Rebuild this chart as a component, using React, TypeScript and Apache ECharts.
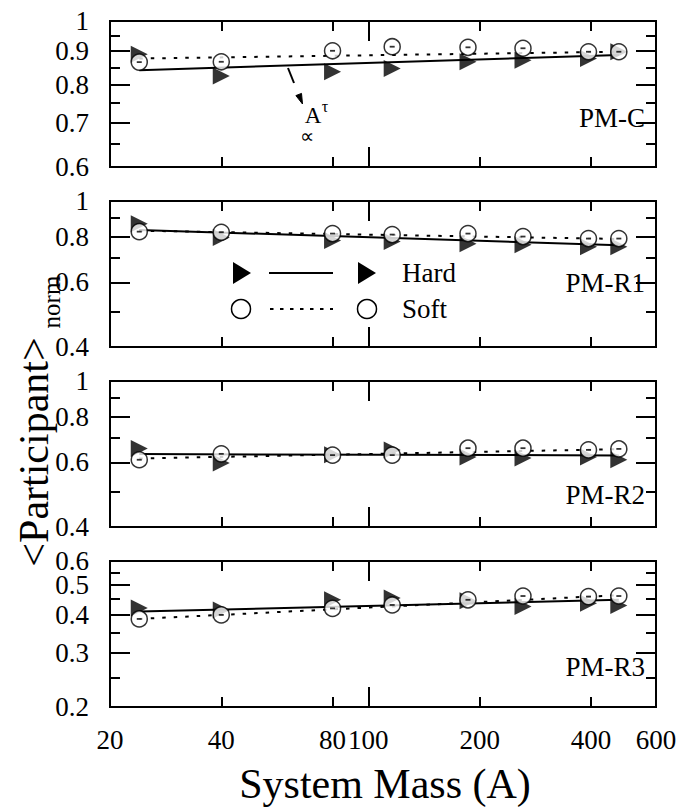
import React, { useEffect, useRef } from 'react';
import * as echarts from 'echarts';

// ---- data ----
const masses = [24, 40, 80, 116, 186, 262, 394, 476];
const panelNames = ['PM-C', 'PM-R1', 'PM-R2', 'PM-R3'];

const hardC = [0.89, 0.825, 0.837, 0.847, 0.867, 0.872, 0.877, 0.898];
const softC = [0.866, 0.867, 0.901, 0.914, 0.912, 0.909, 0.898, 0.898];
const hardFitC = [0.842, 0.888];
const softFitC = [0.877, 0.898];

const hardR1 = [0.867, 0.795, 0.78, 0.775, 0.765, 0.76, 0.75, 0.75];
const softR1 = [0.825, 0.822, 0.815, 0.81, 0.815, 0.8, 0.79, 0.79];
const hardFitR1 = [0.834, 0.758];
const softFitR1 = [0.83, 0.788];

const hardR2 = [0.655, 0.598, 0.629, 0.649, 0.621, 0.617, 0.621, 0.61];
const softR2 = [0.61, 0.633, 0.628, 0.628, 0.656, 0.656, 0.649, 0.653];
const hardFitR2 = [0.632, 0.627];
const softFitR2 = [0.615, 0.652];

const hardR3 = [0.421, 0.415, 0.448, 0.454, 0.445, 0.426, 0.437, 0.429];
const softR3 = [0.388, 0.4, 0.42, 0.431, 0.448, 0.461, 0.459, 0.461];
const hardFitR3 = [0.41, 0.448];
const softFitR3 = [0.388, 0.464];

const xTickLabels = [20, 40, 80, 100, 200, 400, 600];
const xMinorTicks = [40, 80, 200, 400];
const xMajorTicks = [100];
const xRange = [20, 600];

const yRanges = [[0.6, 1], [0.4, 1], [0.4, 1], [0.2, 0.6]];
const yLabels = [
  [1, 0.9, 0.8, 0.7, 0.6],
  [1, 0.8, 0.6, 0.4],
  [1, 0.8, 0.6, 0.4],
  [0.6, 0.5, 0.4, 0.3, 0.2],
];
const yMajorTicks = [[0.9, 0.8, 0.7], [0.8, 0.6], [0.8, 0.6], [0.5, 0.4, 0.3]];
const yMinorTicks = [[0.95, 0.85, 0.75, 0.65], [0.9, 0.7, 0.5], [0.9, 0.7, 0.5], [0.55, 0.45, 0.35, 0.25]];

const hardAll = [hardC, hardR1, hardR2, hardR3];
const softAll = [softC, softR1, softR2, softR3];
const hardFitAll = [hardFitC, hardFitR1, hardFitR2, hardFitR3];
const softFitAll = [softFitC, softFitR1, softFitR2, softFitR3];

// ---- layout ----
const FONT = 'Liberation Serif';
const GRID_LEFT = 110;
const GRID_WIDTH = 546;
const GRID_H = 146;
const gridTops = [21, 201, 381, 561];
const panelLabelY = [118, 283, 495, 667];

const txt = (x: number, y: number, text: string, size: number, align = 'center', extra: any = {}) => ({
  type: 'text', z: 10, x, y, ...extra,
  style: { text, fontFamily: FONT, fontSize: size, fill: '#000', align, verticalAlign: 'middle' },
});

const labelCfg = (labels: number[] | null, margin: number) =>
  labels && labels.length
    ? {
        show: true, customValues: labels, margin, color: '#000', fontFamily: FONT, fontSize: 27, lineHeight: 22,
        formatter: (v: number) => String(v), hideOverlap: false, showMinLabel: true, showMaxLabel: true,
      }
    : { show: false };

function buildOption() {
  const grid: any[] = [];
  const xAxis: any[] = [];
  const yAxis: any[] = [];
  const series: any[] = [];

  gridTops.forEach((top, g) => {
    grid.push({
      left: GRID_LEFT, top, width: GRID_WIDTH, height: GRID_H,
      show: true, borderColor: '#000', borderWidth: 2, backgroundColor: 'rgba(0,0,0,0)',
      containLabel: false, outerBoundsMode: 'none',
    });
    const mkX = (pos: string, ticks: number[], len: number, labels: number[] | null) => ({
      type: 'log', logBase: 10, gridIndex: g, position: pos,
      min: xRange[0] * 0.999999, max: xRange[1] * 1.000001,
      axisLine: { show: false, onZero: false },
      axisTick: { show: true, inside: true, length: len, customValues: ticks, lineStyle: { color: '#000', width: 2 } },
      axisLabel: labelCfg(labels, 22),
      splitLine: { show: false }, minorTick: { show: false }, minorSplitLine: { show: false },
    });
    const lastPanel = g === gridTops.length - 1;
    xAxis.push(mkX('bottom', xMinorTicks, 10, lastPanel ? xTickLabels : null));
    xAxis.push(mkX('bottom', xMajorTicks, 20, null));
    xAxis.push(mkX('top', xMinorTicks, 10, null));
    xAxis.push(mkX('top', xMajorTicks, 20, null));

    const mkY = (pos: string, ticks: number[], len: number, labels: number[] | null) => ({
      type: 'log', logBase: 10, gridIndex: g, position: pos,
      min: yRanges[g][0] * 0.999999, max: yRanges[g][1] * 1.000001,
      axisLine: { show: false, onZero: false },
      axisTick: { show: true, inside: true, length: len, customValues: ticks, lineStyle: { color: '#000', width: 2 } },
      axisLabel: labelCfg(labels, 21),
      splitLine: { show: false }, minorTick: { show: false }, minorSplitLine: { show: false },
    });
    // split labels over two axes so that adjacent labels never compete for space
    const evenLabels = yLabels[g].filter((_, i) => i % 2 === 0);
    const oddLabels = yLabels[g].filter((_, i) => i % 2 === 1);
    yAxis.push(mkY('left', yMajorTicks[g], 20, evenLabels));
    yAxis.push(mkY('left', yMinorTicks[g], 10, oddLabels));
    yAxis.push(mkY('right', yMajorTicks[g], 20, null));
    yAxis.push(mkY('right', yMinorTicks[g], 10, null));

    const xi = g * 4;
    const yi = g * 4;
    const n = masses.length;
    series.push({
      type: 'line', xAxisIndex: xi, yAxisIndex: yi, symbol: 'none', z: 2,
      data: [[masses[0], hardFitAll[g][0]], [masses[n - 1], hardFitAll[g][1]]],
      lineStyle: { color: '#000', width: 2 },
    });
    series.push({
      type: 'line', xAxisIndex: xi, yAxisIndex: yi, symbol: 'none', z: 2,
      data: [[masses[0], softFitAll[g][0]], [masses[n - 1], softFitAll[g][1]]],
      lineStyle: { color: '#000', width: 2, type: [3.5, 8], cap: 'butt' },
    });
    series.push({
      type: 'scatter', xAxisIndex: xi, yAxisIndex: yi, z: 3,
      symbol: 'triangle', symbolRotate: -90, symbolSize: 17,
      itemStyle: { color: '#000' },
      data: masses.map((m, i) => [m, hardAll[g][i]]),
    });
    series.push({
      type: 'scatter', xAxisIndex: xi, yAxisIndex: yi, z: 4,
      symbol: 'circle', symbolSize: 16,
      itemStyle: { color: '#fff', borderColor: '#000', borderWidth: 1.5 },
      data: masses.map((m, i) => [m, softAll[g][i]]),
    });
    series.push({
      type: 'scatter', xAxisIndex: xi, yAxisIndex: yi, z: 5,
      symbol: 'rect', symbolSize: [5, 1.8],
      itemStyle: { color: '#000' },
      data: masses.map((m, i) => [m, softAll[g][i]]),
    });
  });

  const graphic: any[] = [];
  panelNames.forEach((name, g) => {
    graphic.push(txt(645, panelLabelY[g], name, 27, 'right'));
  });
  // legend
  graphic.push(
    { type: 'polygon', z: 10, shape: { points: [[233, 262], [233, 284], [251, 273]] }, style: { fill: '#000' } },
    { type: 'line', z: 10, shape: { x1: 269, y1: 273, x2: 333, y2: 273 }, style: { stroke: '#000', lineWidth: 2 } },
    { type: 'polygon', z: 10, shape: { points: [[358, 262], [358, 284], [376, 273]] }, style: { fill: '#000' } },
    txt(402, 273, 'Hard', 27, 'left'),
    { type: 'circle', z: 10, shape: { cx: 241, cy: 309, r: 9.5 }, style: { fill: '#fff', stroke: '#000', lineWidth: 1.5 } },
    { type: 'line', z: 10, shape: { x1: 270, y1: 309, x2: 333, y2: 309 }, style: { stroke: '#000', lineWidth: 2, lineDash: [3.5, 6.5] } },
    { type: 'circle', z: 10, shape: { cx: 367, cy: 309, r: 9.5 }, style: { fill: '#fff', stroke: '#000', lineWidth: 1.5 } },
    txt(402, 309, 'Soft', 27, 'left'),
  );
  // annotation arrow
  graphic.push(
    { type: 'line', z: 10, shape: { x1: 288, y1: 68, x2: 294, y2: 83 }, style: { stroke: '#000', lineWidth: 2 } },
    { type: 'polygon', z: 10, shape: { points: [[295.9, 95.6], [301.5, 93.4], [302.5, 104]] }, style: { fill: '#000', stroke: '#000', lineWidth: 1 } },
    txt(313, 115, 'A', 23),
    txt(325, 106, 'τ', 16),
    txt(307, 136, '∝', 20),
  );
  // axis titles
  graphic.push(
    txt(385, 784, 'System Mass (A)', 42),
    txt(34, 452, '<Participant>', 42, 'center', { rotation: Math.PI / 2 }),
    txt(51, 302, 'norm', 25, 'center', { rotation: Math.PI / 2 }),
  );

  return {
    animation: false,
    backgroundColor: '#fff',
    grid, xAxis, yAxis, series, graphic,
  };
}

export default function App() {
  const ref = useRef<HTMLDivElement>(null);
  useEffect(() => {
    if (!ref.current) return;
    const chart = echarts.init(ref.current, undefined, { renderer: 'svg' });
    chart.setOption(buildOption() as any);
    return () => chart.dispose();
  }, []);
  return <div ref={ref} style={{ position: 'absolute', left: 0, top: 0, width: 679, height: 812 }} />;
}
